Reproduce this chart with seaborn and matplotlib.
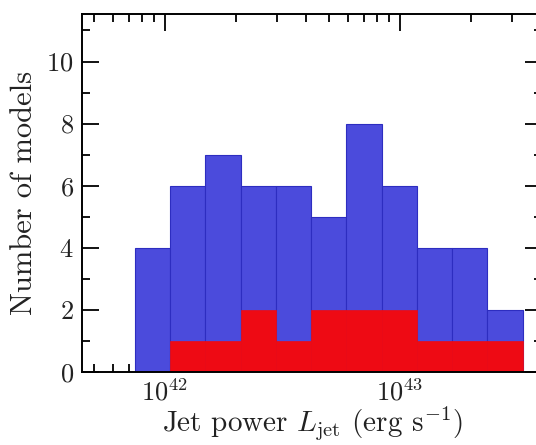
import numpy as np
import pandas as pd
import matplotlib
matplotlib.use("Agg")
import matplotlib.pyplot as plt
import seaborn as sns
from matplotlib.ticker import LogLocator, MultipleLocator, NullFormatter

# ---- data ----
bin_edges_log = [41.872, 42.022, 42.172, 42.322, 42.472, 42.622, 42.772,
                 42.922, 43.072, 43.222, 43.372, 43.522]
bin_centers_log = [41.947, 42.097, 42.247, 42.397, 42.547, 42.697,
                   42.847, 42.997, 43.147, 43.297, 43.447]
all_counts = [4, 6, 7, 6, 6, 5, 8, 6, 4, 4, 2]
sub_counts = [0, 1, 1, 2, 1, 2, 2, 2, 1, 1, 1]

x_label = r"Jet power $L_{\rm jet}$ (erg s$^{-1}$)"
y_label = "Number of models"

sns.set_style("ticks")
plt.rcParams["font.family"] = ["cmr10", "DejaVu Serif"]
plt.rcParams["mathtext.fontset"] = "cm"
plt.rcParams["axes.formatter.use_mathtext"] = True
plt.rcParams["axes.unicode_minus"] = False

df = pd.DataFrame({
    "L": [10 ** c for c in bin_centers_log],
    "all": all_counts,
    "sub": sub_counts,
})
edges = [10 ** e for e in bin_edges_log]

fig = plt.figure(figsize=(5.36, 4.45), dpi=100)
ax = fig.add_axes([0.153, 0.164, 0.858, 0.8045])

sns.histplot(data=df, x="L", weights="all", bins=edges, ax=ax,
             color="#4b4bdc", edgecolor="#2d2dc0", linewidth=0.8,
             alpha=1.0)
sns.histplot(data=df, x="L", weights="sub", bins=edges, ax=ax,
             color="#ee0a14", edgecolor="#ee0a14", linewidth=0.5,
             alpha=1.0)

ax.set_xscale("log")
ax.set_xlim(10 ** 41.647, 10 ** 43.604)
ax.set_ylim(0, 11.53)

ax.xaxis.set_major_locator(LogLocator(base=10, numticks=10))
ax.xaxis.set_minor_locator(LogLocator(base=10, subs=np.arange(2, 10), numticks=20))
ax.xaxis.set_minor_formatter(NullFormatter())
ax.yaxis.set_major_locator(MultipleLocator(2))
ax.yaxis.set_minor_locator(MultipleLocator(1))

for s in ax.spines.values():
    s.set_linewidth(1.4)
    s.set_color("black")
ax.tick_params(which="both", direction="in", top=True, right=True,
               color="black", width=1.3)
ax.tick_params(which="major", length=12, labelsize=19, pad=6,
               labelcolor="#222222")
ax.tick_params(axis="x", which="major", pad=5)
ax.tick_params(which="minor", length=6)

ax.set_xlabel(x_label, fontsize=21, labelpad=-1, color="#222222")
ax.set_ylabel(y_label, fontsize=22, labelpad=6, color="#222222")

fig.savefig("out.png", dpi=100)
